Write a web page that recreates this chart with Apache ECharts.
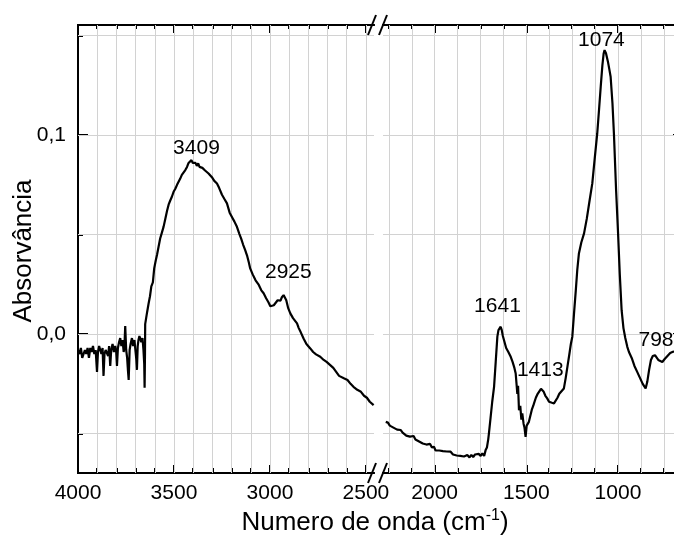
<!DOCTYPE html>
<html><head><meta charset="utf-8">
<script src="https://cdn.jsdelivr.net/npm/echarts@6/dist/echarts.min.js"></script>
<style>html,body{margin:0;padding:0;background:#fff}#c{width:674px;height:537px}</style>
</head><body><div id="c"></div>
<script>
// ---- data ----
const leftWavenumbers = [4000,3992,3985,3978,3971,3964,3957,3950,3943,3936,3929,3922,3915,3908,3901,3896,3890,3884,3878,3872,3867,3862,3856,3849,3843,3838,3832,3827,3820,3813,3806,3801,3797,3792,3786,3780,3774,3768,3762,3758,3754,3749,3744,3740,3736,3731,3726,3719,3713,3706,3700,3696,3693,3689,3685,3680,3676,3670,3664,3659,3655,3653,3651,3650,3645,3640,3632,3625,3618,3610,3603,3595,3588,3580,3572,3563,3554,3545,3536,3528,3520,3511,3502,3493,3484,3476,3468,3459,3450,3441,3432,3424,3416,3409,3402,3395,3388,3381,3374,3367,3360,3352,3345,3338,3330,3320,3310,3300,3290,3276,3265,3250,3238,3224,3210,3196,3185,3172,3160,3150,3140,3129,3118,3110,3103,3090,3075,3060,3045,3033,3020,3008,2998,2990,2980,2970,2960,2952,2945,2938,2929,2922,2915,2905,2894,2880,2870,2859,2850,2840,2825,2810,2800,2790,2775,2760,2750,2738,2720,2705,2686,2670,2655,2640,2630,2615,2596,2580,2565,2545,2526,2510,2495,2480,2470,2460];
const leftAbsorbance = [-0.008,-0.010,-0.007,-0.012,-0.011,-0.008,-0.010,-0.007,-0.012,-0.007,-0.009,-0.006,-0.010,-0.008,-0.019,-0.009,-0.006,-0.008,-0.010,-0.007,-0.021,-0.010,-0.008,-0.007,-0.011,-0.006,-0.016,-0.008,-0.005,-0.009,-0.006,-0.009,-0.016,-0.007,-0.004,-0.002,-0.006,-0.003,-0.009,-0.006,0.004,-0.008,-0.012,-0.018,-0.023,-0.008,-0.005,-0.002,-0.006,-0.003,-0.009,-0.013,-0.018,-0.006,-0.003,-0.001,0.000,-0.004,-0.002,-0.008,-0.015,-0.027,-0.010,0.005,0.008,0.011,0.0155,0.019,0.024,0.026,0.033,0.037,0.040,0.044,0.048,0.051,0.054,0.058,0.062,0.065,0.067,0.069,0.0715,0.073,0.075,0.076,0.078,0.080,0.081,0.0824,0.084,0.086,0.085,0.0874,0.086,0.0855,0.086,0.0845,0.0858,0.084,0.085,0.0835,0.083,0.0822,0.0815,0.0807,0.0798,0.0785,0.077,0.0757,0.0735,0.070,0.068,0.0657,0.061,0.0585,0.0565,0.0539,0.0505,0.048,0.045,0.0422,0.039,0.036,0.033,0.030,0.027,0.025,0.022,0.0205,0.018,0.016,0.014,0.0137,0.0145,0.015,0.017,0.0175,0.0168,0.0185,0.0196,0.0192,0.017,0.013,0.0104,0.008,0.007,0.0054,0.003,0.001,-0.0022,-0.005,-0.006,-0.0072,-0.009,-0.0102,-0.011,-0.0114,-0.013,-0.014,-0.0156,-0.017,-0.019,-0.021,-0.0214,-0.0222,-0.0231,-0.025,-0.0265,-0.028,-0.029,-0.031,-0.032,-0.034,-0.0345,-0.0357];
const rightWavenumbers = [2267,2255,2245,2235,2225,2215,2205,2195,2185,2175,2165,2155,2145,2135,2125,2115,2105,2095,2085,2075,2065,2055,2045,2035,2025,2015,2004,1995,1985,1975,1965,1955,1945,1935,1925,1913,1900,1890,1880,1870,1860,1850,1840,1830,1822,1810,1800,1790,1780,1770,1760,1749,1740,1730,1722,1715,1708,1704,1695,1686,1676,1667,1658,1652,1646,1640,1634,1628,1622,1610,1598,1585,1575,1565,1558,1553,1549,1545,1540,1533,1527,1522,1515,1510,1504,1498,1492,1486,1478,1470,1462,1458,1448,1438,1428,1420,1413,1405,1396,1386,1376,1368,1360,1349,1340,1330,1320,1310,1295,1285,1275,1265,1257,1249,1240,1230,1222,1213,1200,1185,1170,1155,1140,1127,1113,1103,1094,1085,1078,1073,1065,1055,1047,1040,1030,1022,1010,1000,990,980,970,960,949,940,925,910,895,880,865,849,840,830,820,810,798,790,780,770,758,745,730,715,700,690,680,660];
const rightAbsorbance = [-0.0441,-0.0445,-0.046,-0.0452,-0.047,-0.0465,-0.048,-0.0475,-0.0482,-0.0495,-0.049,-0.051,-0.0505,-0.0515,-0.052,-0.0512,-0.053,-0.0524,-0.054,-0.0535,-0.055,-0.0545,-0.0555,-0.056,-0.0552,-0.057,-0.0566,-0.0585,-0.058,-0.0585,-0.0592,-0.0588,-0.0598,-0.059,-0.060,-0.0591,-0.0605,-0.0598,-0.061,-0.060,-0.0612,-0.0603,-0.0615,-0.0605,-0.0608,-0.062,-0.0607,-0.0618,-0.0605,-0.0615,-0.0602,-0.0612,-0.060,-0.0612,-0.0583,-0.057,-0.053,-0.0499,-0.042,-0.034,-0.0265,-0.014,-0.0013,0.002,0.003,0.0037,0.002,-0.001,-0.003,-0.007,-0.009,-0.0114,-0.014,-0.017,-0.0198,-0.020,-0.030,-0.026,-0.0382,-0.036,-0.043,-0.0399,-0.045,-0.047,-0.0516,-0.046,-0.047,-0.0441,-0.041,-0.038,-0.036,-0.0348,-0.032,-0.030,-0.029,-0.0275,-0.0273,-0.029,-0.031,-0.0323,-0.034,-0.0332,-0.0345,-0.0348,-0.034,-0.032,-0.030,-0.029,-0.0273,-0.022,-0.016,-0.010,-0.005,-0.0013,0.010,0.022,0.0322,0.0405,0.046,0.0506,0.058,0.067,0.0757,0.088,0.1008,0.113,0.1243,0.135,0.141,0.1427,0.141,0.137,0.133,0.1293,0.116,0.1008,0.072,0.052,0.030,0.012,0.003,-0.002,-0.0064,-0.009,-0.012,-0.016,-0.019,-0.022,-0.025,-0.0273,-0.024,-0.018,-0.013,-0.011,-0.0106,-0.0115,-0.013,-0.0135,-0.014,-0.0125,-0.011,-0.0095,-0.0089,-0.0087,-0.0085,-0.0083];
const peakWavenumbers = [3409, 2925, 1641, 1413, 1074, 798];
const peakAbsorbance = [0.0874, 0.0196, 0.0037, -0.0273, 0.1427, -0.0106];
const peakLabels = ['3409', '2925', '1641', '1413', '1074', '798'];
const leftMajorTicks = [4000, 3500, 3000, 2500];
const leftMinorTicks = [3900, 3800, 3700, 3600, 3500, 3400, 3300, 3200, 3100, 3000, 2900, 2800, 2700, 2600, 2500];
const rightMajorTicks = [2000, 1500, 1000];
const rightMinorTicks = [2250, 2125, 2000, 1875, 1750, 1625, 1500, 1375, 1250, 1125, 1000, 875, 750];
const yMajorTicks = [0, 0.1];
const yMinorTicks = [-0.05, 0, 0.05, 0.1, 0.15];
const xTitle = 'Numero de onda (cm';
const xTitleSup = '-1';
const yTitle = 'Absorvância';

// ---- layout / style ----
const FONT = 'Liberation Sans, Arial, sans-serif';
const TOP = 25, HEIGHT = 448;
const LEFT_GRID = {left: 78, width: 296};
const RIGHT_GRID = {left: 383, width: 298};
const LEFT_RANGE = [2458, 4000];
const RIGHT_RANGE = [656, 2282];
const Y_RANGE = [-0.0698, 0.1553];
const LABEL_SIZE = 21;
const GRID_COLOR = '#d2d2d2';
const peakLabelOffsets = [[5, -12], [4, -23], [-3, -21], [-2, -18], [-3, -10], [1, -15]];

function xAx(grid, pos, range, ticks, len, labels) {
  return {
    type: 'value', gridIndex: grid, position: pos, inverse: true, min: range[0], max: range[1], z: 3,
    axisLine: {show: true, onZero: false, lineStyle: {color: '#000', width: 2}},
    axisTick: {show: true, inside: true, length: len, customValues: ticks, lineStyle: {color: '#000', width: 2}},
    axisLabel: {show: labels, customValues: ticks, margin: 10, color: '#000', fontSize: LABEL_SIZE, fontFamily: FONT,
      formatter: v => String(Math.round(v))},
    splitLine: {show: false}
  };
}
function yAx(grid, pos, ticks, len, labels) {
  return {
    type: 'value', gridIndex: grid, position: pos, min: Y_RANGE[0], max: Y_RANGE[1], z: 3,
    axisLine: {show: true, onZero: false, lineStyle: {color: '#000', width: 2}},
    axisTick: {show: true, inside: true, length: len, customValues: ticks, lineStyle: {color: '#000', width: 2}},
    axisLabel: {show: labels, customValues: ticks, margin: 12, color: '#000', fontSize: LABEL_SIZE, fontFamily: FONT,
      formatter: v => v.toFixed(1).replace('.', ',')},
    splitLine: {show: false}
  };
}
function gridLines(xIdx, yIdx, xValues) {
  return {
    type: 'line', xAxisIndex: xIdx, yAxisIndex: yIdx, data: [], z: 1, silent: true,
    markLine: {
      silent: true, symbol: 'none', animation: false, label: {show: false},
      lineStyle: {color: GRID_COLOR, width: 1, type: 'solid'},
      emphasis: {disabled: true},
      data: xValues.map(v => ({xAxis: v})).concat(yMinorTicks.map(v => ({yAxis: v})))
    }
  };
}

const leftPeaks = [], rightPeaks = [];
peakWavenumbers.forEach((w, i) => {
  const item = {value: [w, peakAbsorbance[i]], name: peakLabels[i],
    label: {offset: peakLabelOffsets[i]}};
  (w > 2400 ? leftPeaks : rightPeaks).push(item);
});
const peakLabelStyle = {show: true, position: 'inside', formatter: p => p.name, color: '#000', fontSize: LABEL_SIZE, fontFamily: FONT, opacity: 1};

const chart = echarts.init(document.getElementById('c'), null, {renderer: 'canvas'});
chart.setOption({
  animation: false,
  backgroundColor: '#fff',
  grid: [
    {left: LEFT_GRID.left, width: LEFT_GRID.width, top: TOP, height: HEIGHT, outerBoundsMode: 'none', containLabel: false},
    {left: RIGHT_GRID.left, width: RIGHT_GRID.width, top: TOP, height: HEIGHT, outerBoundsMode: 'none', containLabel: false}
  ],
  xAxis: [
    xAx(0, 'bottom', LEFT_RANGE, leftMajorTicks, 8, true),
    xAx(0, 'bottom', LEFT_RANGE, leftMinorTicks, 5, false),
    xAx(0, 'top', LEFT_RANGE, leftMajorTicks, 8, false),
    xAx(0, 'top', LEFT_RANGE, leftMinorTicks, 4, false),
    xAx(1, 'bottom', RIGHT_RANGE, rightMajorTicks, 8, true),
    xAx(1, 'bottom', RIGHT_RANGE, rightMinorTicks, 5, false),
    xAx(1, 'top', RIGHT_RANGE, rightMajorTicks, 8, false),
    xAx(1, 'top', RIGHT_RANGE, rightMinorTicks, 4, false)
  ],
  yAxis: [
    yAx(0, 'left', yMajorTicks, 10, true),
    yAx(0, 'left', yMinorTicks, 5, false),
    yAx(1, 'right', yMajorTicks, 8, false),
    yAx(1, 'right', yMinorTicks, 4, false)
  ],
  series: [
    gridLines(0, 0, leftMinorTicks),
    gridLines(4, 2, rightMinorTicks),
    {type: 'line', xAxisIndex: 0, yAxisIndex: 0, showSymbol: false, symbol: 'none', z: 5,
      lineStyle: {color: '#000', width: 2.2}, data: leftWavenumbers.map((w, i) => [w, leftAbsorbance[i]])},
    {type: 'line', xAxisIndex: 4, yAxisIndex: 2, showSymbol: false, symbol: 'none', z: 5,
      lineStyle: {color: '#000', width: 2.2}, data: rightWavenumbers.map((w, i) => [w, rightAbsorbance[i]])},
    {type: 'scatter', xAxisIndex: 0, yAxisIndex: 0, symbolSize: 0, z: 6, itemStyle: {opacity: 1}, label: peakLabelStyle, data: leftPeaks, clip: false},
    {type: 'scatter', xAxisIndex: 4, yAxisIndex: 2, symbolSize: 0, z: 6, itemStyle: {opacity: 1}, label: peakLabelStyle, data: rightPeaks, clip: false}
  ],
  graphic: [
    {type: 'line', shape: {x1: 368, y1: 35, x2: 376, y2: 15}, style: {stroke: '#000', lineWidth: 2}, z: 100},
    {type: 'line', shape: {x1: 379, y1: 35, x2: 387, y2: 15}, style: {stroke: '#000', lineWidth: 2}, z: 100},
    {type: 'line', shape: {x1: 368, y1: 483, x2: 376, y2: 463}, style: {stroke: '#000', lineWidth: 2}, z: 100},
    {type: 'line', shape: {x1: 379, y1: 483, x2: 387, y2: 463}, style: {stroke: '#000', lineWidth: 2}, z: 100},
    {type: 'text', x: 375, y: 523, z: 100, style: {
      text: '{a|' + xTitle + '}{s|' + xTitleSup + '}{a|)}', align: 'center', verticalAlign: 'middle',
      rich: {a: {fontSize: 26, fontFamily: FONT, fill: '#000', lineHeight: 30},
             s: {fontSize: 16, fontFamily: FONT, fill: '#000', verticalAlign: 'top', lineHeight: 14}}}},
    {type: 'text', x: 24, y: 251, rotation: Math.PI / 2, z: 100, style: {
      text: yTitle, align: 'center', verticalAlign: 'middle', fontSize: 26, fontFamily: FONT, fill: '#000'}}
  ]
});
</script></body></html>
